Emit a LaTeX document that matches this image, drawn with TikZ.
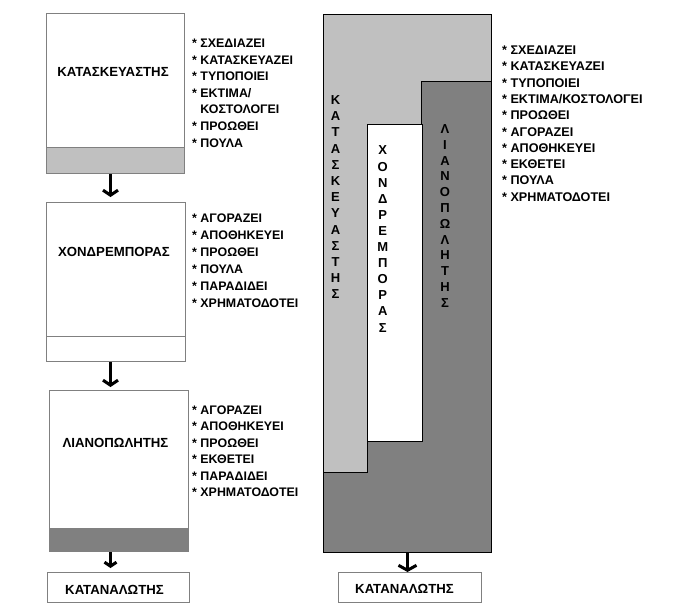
\documentclass[tikz,border=0pt]{standalone}
\usepackage{fontspec}
\setmainfont{Liberation Sans}
\usetikzlibrary{arrows.meta}
\definecolor{lgray}{HTML}{C0C0C0}
\definecolor{dgray}{HTML}{808080}
\begin{document}
\begin{tikzpicture}[x=1pt,y=-1pt,
  box/.style={draw=dgray,line width=1pt,inner sep=0,anchor=north west},
  lbl/.style={font=\bfseries\fontsize{13.2}{15}\selectfont,inner sep=0},
  item/.style={font=\bfseries\fontsize{12.4}{13}\selectfont,anchor=base west,inner sep=0},
  itemr/.style={font=\bfseries\fontsize{12.6}{13}\selectfont,anchor=base west,inner sep=0},
  vlet/.style={font=\bfseries\fontsize{13}{14}\selectfont,inner sep=0},
  flow/.style={line width=3pt,-{Straight Barb[length=5pt,width=15pt,line width=3pt]}}]
\useasboundingbox (0,0) rectangle (694,606);

% ---------- left column ----------
\fill[lgray] (46,147) rectangle (184,173);
\draw[dgray,line width=1pt] (46,147) -- (184,147);
\node[box,minimum width=138pt,minimum height=160pt] (kat) at (46,13) {};
\node[lbl] (katl) at (113,72) {ΚΑΤΑΣΚΕΥΑΣΤΗΣ};

\node[box,minimum width=139pt,minimum height=159pt] (xon) at (46,202) {};
\draw[dgray,line width=1pt] (46,336) -- (185,336);
\node[lbl] (xonl) at (114,252) {ΧΟΝΔΡΕΜΠΟΡΑΣ};

\fill[dgray] (49,528) rectangle (188,551);
\node[box,minimum width=139pt,minimum height=161pt] (lia) at (49,390) {};
\node[lbl] (lial) at (115.5,443) {ΛΙΑΝΟΠΩΛΗΤΗΣ};

\node[box,minimum width=142pt,minimum height=30pt] (kan) at (47,572) {};
\node[lbl] (kanl) at (114.5,590) {ΚΑΤΑΝΑΛΩΤΗΣ};

\draw[flow,shorten >=5pt] ([xshift=-5pt]kat.south) -- ([xshift=-5pt]kat.south |- xon.north);
\draw[flow,shorten >=3pt] ([xshift=-5.5pt]xon.south) -- ([xshift=-5.5pt]xon.south |- lia.north);
\draw[line width=3pt,-{Straight Barb[length=4pt,width=12pt,line width=3pt]},shorten >=4pt] ([xshift=-8.5pt]lia.south) -- ([xshift=-8.5pt]lia.south |- kan.north);

% lists
\foreach \t [count=\i from 0] in {* ΣΧΕΔΙΑΖΕΙ,* ΚΑΤΑΣΚΕΥΑΖΕΙ,* ΤΥΠΟΠΟΙΕΙ,* ΕΚΤΙΜΑ/,\phantom{* }ΚΟΣΤΟΛΟΓΕΙ,* ΠΡΟΩΘΕΙ,* ΠΟΥΛΑ}
  \node[item] (la\i) at (192,47.5+16.6*\i) {\t};
\foreach \t [count=\i from 0] in {* ΑΓΟΡΑΖΕΙ,* ΑΠΟΘΗΚΕΥΕΙ,* ΠΡΟΩΘΕΙ,* ΠΟΥΛΑ,* ΠΑΡΑΔΙΔΕΙ,* ΧΡΗΜΑΤΟΔΟΤΕΙ}
  \node[item] (lb\i) at (192,222.5+16.9*\i) {\t};
\foreach \t [count=\i from 0] in {* ΑΓΟΡΑΖΕΙ,* ΑΠΟΘΗΚΕΥΕΙ,* ΠΡΟΩΘΕΙ,* ΕΚΘΕΤΕΙ,* ΠΑΡΑΔΙΔΕΙ,* ΧΡΗΜΑΤΟΔΟΤΕΙ}
  \node[item] (lc\i) at (192,414.2+16.5*\i) {\t};

% ---------- right column ----------
\fill[dgray] (323,14) rectangle (491,552);
\filldraw[fill=lgray,draw=black,line width=1pt] (323,14) -- (491,14) -- (491,81) -- (421,81) -- (421,441) -- (367,441) -- (367,472) -- (323,472) -- cycle;
\filldraw[fill=white,draw=black,line width=1pt] (367,124) rectangle (422,441);
\node[draw=black,line width=1pt,inner sep=0,anchor=north west,minimum width=168pt,minimum height=538pt] (big) at (323,14) {};

\foreach \c [count=\i from 0] in {Κ,Α,Τ,Α,Σ,Κ,Ε,Υ,Α,Σ,Τ,Η,Σ}
  \node[vlet] (va\i) at (335.5,100+16.2*\i) {\c};
\foreach \c [count=\i from 0] in {Χ,Ο,Ν,Δ,Ρ,Ε,Μ,Π,Ο,Ρ,Α,Σ}
  \node[vlet] (vb\i) at (382.7,150.5+16.1*\i) {\c};
\foreach \c [count=\i from 0] in {Λ,Ι,Α,Ν,Ο,Π,Ω,Λ,Η,Τ,Η,Σ}
  \node[vlet] (vc\i) at (445,129+15.8*\i) {\c};

\foreach \t [count=\i from 0] in {* ΣΧΕΔΙΑΖΕΙ,* ΚΑΤΑΣΚΕΥΑΖΕΙ,* ΤΥΠΟΠΟΙΕΙ,* ΕΚΤΙΜΑ/ΚΟΣΤΟΛΟΓΕΙ,* ΠΡΟΩΘΕΙ,* ΑΓΟΡΑΖΕΙ,* ΑΠΟΘΗΚΕΥΕΙ,* ΕΚΘΕΤΕΙ,* ΠΟΥΛΑ,* ΧΡΗΜΑΤΟΔΟΤΕΙ}
  \node[itemr] (ld\i) at (502,54.5+16.3*\i) {\t};

\node[box,minimum width=143pt,minimum height=30pt] (kan2) at (338,572) {};
\node[lbl] (kan2l) at (404.5,589) {ΚΑΤΑΝΑΛΩΤΗΣ};

\draw[line width=3pt,-{Straight Barb[length=5pt,width=18pt,line width=3pt]}] (big.south) -- (kan2.north -| big.south);
\end{tikzpicture}
\end{document}
